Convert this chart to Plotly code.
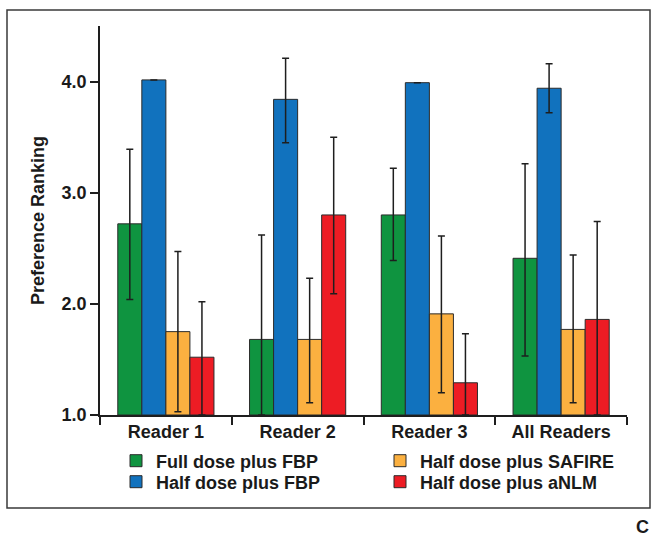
import plotly.graph_objects as go

categories = ["Reader 1", "Reader 2", "Reader 3", "All Readers"]
series_names = ["Full dose plus FBP", "Half dose plus FBP", "Half dose plus SAFIRE", "Half dose plus aNLM"]

full_fbp = [2.72, 1.68, 2.80, 2.41]
full_fbp_hi = [3.39, 2.62, 3.22, 3.26]
full_fbp_lo = [2.04, 1.00, 2.39, 1.53]

half_fbp = [4.015, 3.84, 3.99, 3.94]
half_fbp_hi = [None, 4.21, None, 4.16]
half_fbp_lo = [None, 3.45, None, 3.72]

half_safire = [1.75, 1.68, 1.91, 1.77]
half_safire_hi = [2.47, 2.23, 2.61, 2.44]
half_safire_lo = [1.03, 1.11, 1.20, 1.11]

half_anlm = [1.52, 2.80, 1.29, 1.86]
half_anlm_hi = [2.02, 3.50, 1.73, 2.74]
half_anlm_lo = [1.00, 2.09, 1.00, 1.00]

colors = ["#0f9440", "#1172be", "#fbb040", "#ed1c24"]
legend_ids = ["legend", "legend2", "legend3", "legend4"]

values = [full_fbp, half_fbp, half_safire, half_anlm]
his = [full_fbp_hi, half_fbp_hi, half_safire_hi, half_anlm_hi]
los = [full_fbp_lo, half_fbp_lo, half_safire_lo, half_anlm_lo]

FONT = "Liberation Sans, Arial, sans-serif"
TXT = "#1a1a1a"

fig = go.Figure()
for name, v, hi, lo, c, lg in zip(series_names, values, his, los, colors, legend_ids):
    plus = [None if h is None else h - y for h, y in zip(hi, v)]
    minus = [None if l is None else y - l for l, y in zip(lo, v)]
    fig.add_trace(go.Bar(
        x=categories, y=[y - 1.0 for y in v], base=1.0, name=name,
        marker=dict(color=c, line=dict(color="#2b2b2b", width=1)),
        error_y=dict(type="data", symmetric=False, array=plus, arrayminus=minus,
                     color="#1e1e1e", thickness=1.5, width=3.5),
        legend=lg,
    ))

legend_common = dict(
    orientation="v", xanchor="left", yanchor="middle",
    font=dict(family=FONT, size=18, color=TXT, weight="bold"),
    bgcolor="rgba(0,0,0,0)", itemwidth=30,
)

def px_x(p):
    return (p - 100) / 527

def px_y(p):
    return (415 - p) / 389

fig.update_layout(
    width=660, height=541,
    margin=dict(l=100, r=33, t=26, b=126),
    paper_bgcolor="white", plot_bgcolor="white",
    barmode="group", bargap=0.27, bargroupgap=0,
    font=dict(family=FONT, size=18, color=TXT),
    showlegend=True,
    legend=dict(**legend_common, x=px_x(116), y=px_y(461)),
    legend2=dict(**legend_common, x=px_x(116), y=px_y(482)),
    legend3=dict(**legend_common, x=px_x(380), y=px_y(461)),
    legend4=dict(**legend_common, x=px_x(380), y=px_y(482)),
    xaxis=dict(
        range=[-0.5, 3.5], showline=True, linecolor="#1e1e1e", linewidth=1.5,
        ticks="outside", tickson="boundaries", ticklen=8, tickcolor="#1e1e1e",
        tickwidth=1.5, showgrid=False, zeroline=False,
        tickfont=dict(family=FONT, size=18, color=TXT, weight="bold"),
    ),
    yaxis=dict(
        range=[1.0, 4.5], tickvals=[1, 2, 3, 4], ticktext=["1.0", "2.0", "3.0", "4.0"],
        showline=True, linecolor="#1e1e1e", linewidth=1.5,
        ticks="outside", ticklen=8, tickcolor="#1e1e1e", tickwidth=1.5,
        showgrid=False, zeroline=False,
        tickfont=dict(family=FONT, size=18, color=TXT, weight="bold"),
        title=dict(text="Preference Ranking", standoff=12,
                   font=dict(family=FONT, size=18, color=TXT, weight="bold")),
    ),
)

fig.add_shape(type="rect", xref="paper", yref="paper",
              x0=px_x(7), x1=px_x(650), y0=px_y(508), y1=px_y(10),
              line=dict(color="#3a3a3a", width=1.5), fillcolor="rgba(0,0,0,0)", layer="below")

fig.add_annotation(text="C", xref="paper", yref="paper",
                   x=px_x(642), y=px_y(527), xanchor="center", yanchor="middle",
                   showarrow=False,
                   font=dict(family=FONT, size=18, color=TXT, weight="bold"))

fig.write_html("out.html", post_script="document.body.style.margin='0';",
               config={"displayModeBar": False})
